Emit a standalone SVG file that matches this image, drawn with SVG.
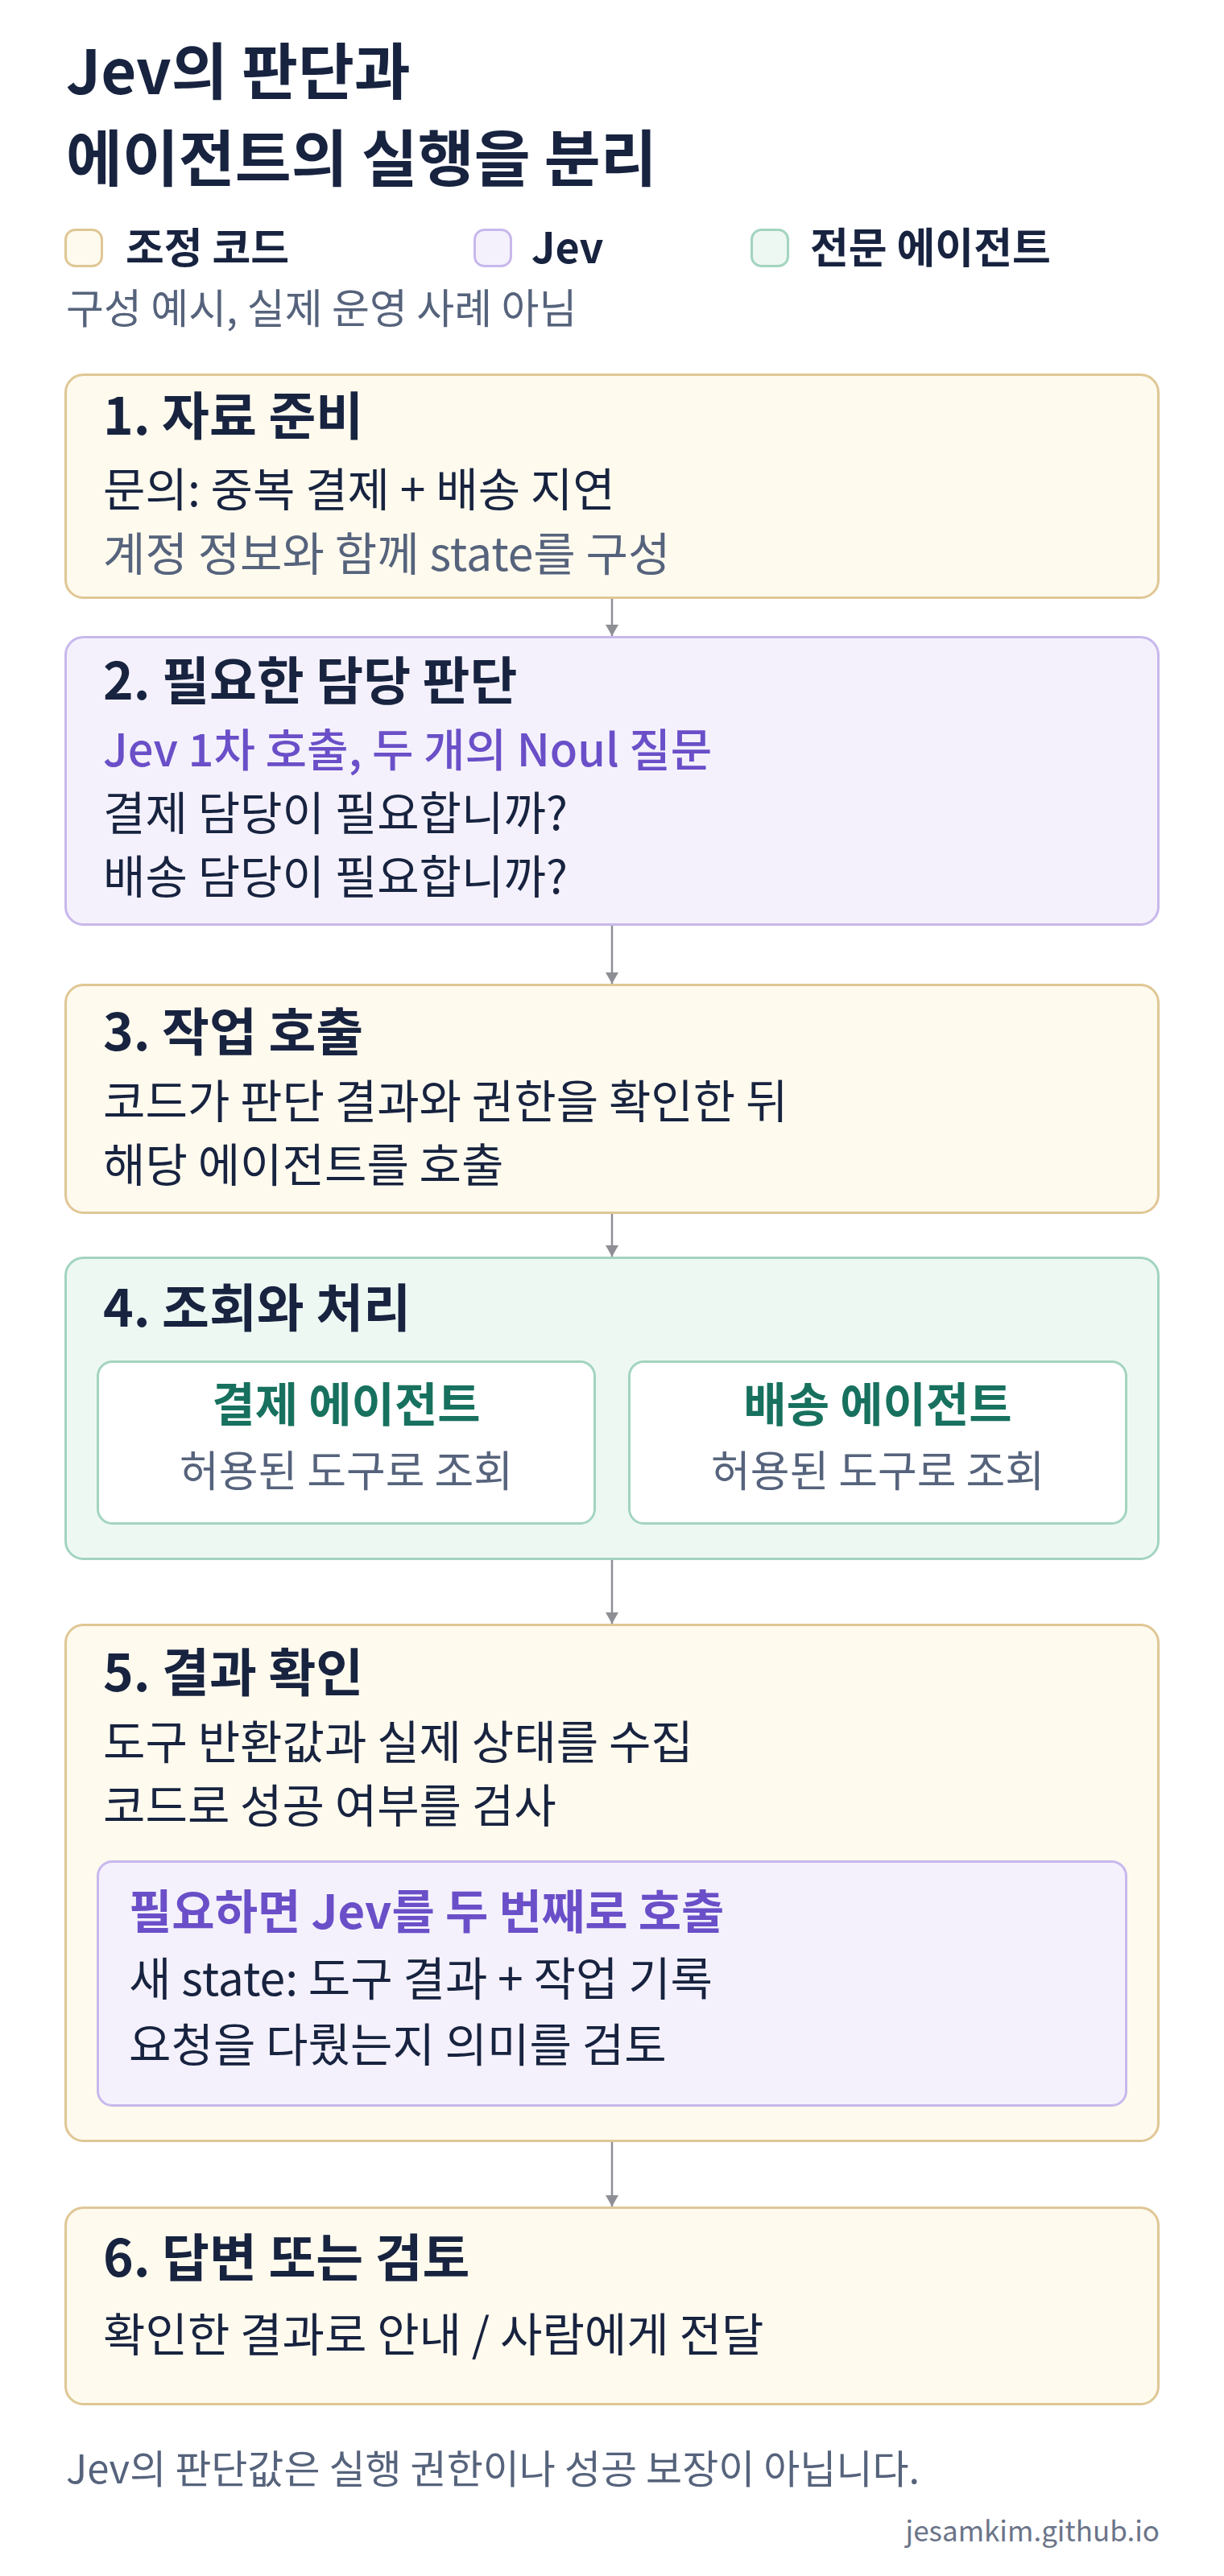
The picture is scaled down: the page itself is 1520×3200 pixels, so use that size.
<svg xmlns="http://www.w3.org/2000/svg" width="1520" height="3200" viewBox="0 0 1520 3200">
  <defs>
    <marker id="arrow" viewBox="0 0 14 16" refX="14" refY="8" markerWidth="14" markerHeight="16" markerUnits="userSpaceOnUse" orient="auto">
      <path d="M0,0 L14,8 L0,16 Z" fill="#8E8E96"/>
    </marker>
    <style>
      text { font-family: "Noto Sans CJK KR", "Noto Sans", sans-serif; }
      .title { font-size: 76px; font-weight: 700; fill: #17233F; }
      .legend { font-size: 52px; font-weight: 700; fill: #17233F; }
      .sub { font-size: 51px; fill: #56637C; }
      .h { font-size: 64px; font-weight: 700; fill: #17233F; }
      .b { font-size: 57px; fill: #17233F; }
      .g { font-size: 57px; fill: #56637C; }
      .p { font-size: 58px; font-weight: 700; fill: #6A4FC8; }
      .pr { font-size: 56px; font-weight: 500; fill: #6A4FC8; }
      .gt { font-size: 58px; font-weight: 700; fill: #17715E; }
      .gs { font-size: 53px; fill: #56637C; }
      .foot { font-size: 49px; fill: #56637C; }
      .url { font-size: 35px; fill: #6B7489; }
      .code { fill: #FFFAEE; stroke: #DFC795; stroke-width: 3; }
      .jev { fill: #F4F1FC; stroke: #C8B8EC; stroke-width: 3; }
      .agent { fill: #EEF8F3; stroke: #A3D4C0; stroke-width: 3; }
      .agentin { fill: #FFFFFF; stroke: #A3D4C0; stroke-width: 3; }
      .conn { stroke: #8E8E96; stroke-width: 2.5; fill: none; }
    </style>
  </defs>
  <rect width="1520" height="3200" fill="#FFFFFF"/>

  <g id="header">
    <text class="title" x="82" y="117">Jev의 판단과</text>
    <text class="title" x="82" y="225">에이전트의 실행을 분리</text>
  </g>

  <g id="legend">
    <rect class="code" x="81.5" y="285.5" width="45" height="45" rx="12"/>
    <text class="legend" x="156" y="327">조정 코드</text>
    <rect class="jev" x="589.5" y="285.5" width="45" height="45" rx="12"/>
    <text class="legend" x="660" y="327">Jev</text>
    <rect class="agent" x="933.5" y="285.5" width="45" height="45" rx="12"/>
    <text class="legend" x="1006" y="327">전문 에이전트</text>
    <text class="sub" x="82" y="402">구성 예시, 실제 운영 사례 아님</text>
  </g>

  <g id="connectors">
    <line class="conn" x1="760" y1="744" x2="760" y2="790" marker-end="url(#arrow)"/>
    <line class="conn" x1="760" y1="1150" x2="760" y2="1222" marker-end="url(#arrow)"/>
    <line class="conn" x1="760" y1="1508" x2="760" y2="1561" marker-end="url(#arrow)"/>
    <line class="conn" x1="760" y1="1938" x2="760" y2="2017" marker-end="url(#arrow)"/>
    <line class="conn" x1="760" y1="2661" x2="760" y2="2741" marker-end="url(#arrow)"/>
  </g>

  <g id="step1">
    <rect class="code" x="81.5" y="465.5" width="1357" height="277" rx="22"/>
    <text class="h" x="128" y="540">1. 자료 준비</text>
    <text class="b" x="128" y="629">문의: 중복 결제 + 배송 지연</text>
    <text class="g" x="128" y="709">계정 정보와 함께 state를 구성</text>
  </g>

  <g id="step2">
    <rect class="jev" x="81.5" y="791.5" width="1357" height="357" rx="22"/>
    <text class="h" x="128" y="869">2. 필요한 담당 판단</text>
    <text class="pr" x="128" y="952">Jev 1차 호출, 두 개의 Noul 질문</text>
    <text class="b" x="128" y="1031">결제 담당이 필요합니까?</text>
    <text class="b" x="128" y="1110">배송 담당이 필요합니까?</text>
  </g>

  <g id="step3">
    <rect class="code" x="81.5" y="1223.5" width="1357" height="283" rx="22"/>
    <text class="h" x="128" y="1305">3. 작업 호출</text>
    <text class="b" x="128" y="1389">코드가 판단 결과와 권한을 확인한 뒤</text>
    <text class="b" x="128" y="1468">해당 에이전트를 호출</text>
  </g>

  <g id="step4">
    <rect class="agent" x="81.5" y="1562.5" width="1357" height="374" rx="22"/>
    <text class="h" x="128" y="1648">4. 조회와 처리</text>
  </g>

  <g id="payment-agent">
    <rect class="agentin" x="121.5" y="1691.5" width="617" height="201" rx="18"/>
    <text class="gt" x="430" y="1766" text-anchor="middle">결제 에이전트</text>
    <text class="gs" x="430" y="1847" text-anchor="middle">허용된 도구로 조회</text>
  </g>

  <g id="shipping-agent">
    <rect class="agentin" x="781.5" y="1691.5" width="617" height="201" rx="18"/>
    <text class="gt" x="1090" y="1766" text-anchor="middle">배송 에이전트</text>
    <text class="gs" x="1090" y="1847" text-anchor="middle">허용된 도구로 조회</text>
  </g>

  <g id="step5">
    <rect class="code" x="81.5" y="2018.5" width="1357" height="641" rx="22"/>
    <text class="h" x="128" y="2101">5. 결과 확인</text>
    <text class="b" x="128" y="2185">도구 반환값과 실제 상태를 수집</text>
    <text class="b" x="128" y="2264">코드로 성공 여부를 검사</text>
  </g>

  <g id="jev-second-call">
    <rect class="jev" x="121.5" y="2312.5" width="1277" height="303" rx="18"/>
    <text class="p" x="160" y="2396">필요하면 Jev를 두 번째로 호출</text>
    <text class="b" x="160" y="2479">새 state: 도구 결과 + 작업 기록</text>
    <text class="b" x="160" y="2561">요청을 다뤘는지 의미를 검토</text>
  </g>

  <g id="step6">
    <rect class="code" x="81.5" y="2742.5" width="1357" height="244" rx="22"/>
    <text class="h" x="128" y="2828">6. 답변 또는 검토</text>
    <text class="b" x="128" y="2921">확인한 결과로 안내 / 사람에게 전달</text>
  </g>

  <g id="footer">
    <text class="foot" x="82" y="3085">Jev의 판단값은 실행 권한이나 성공 보장이 아닙니다.</text>
    <text class="url" x="1440" y="3157" text-anchor="end">jesamkim.github.io</text>
  </g>
</svg>
